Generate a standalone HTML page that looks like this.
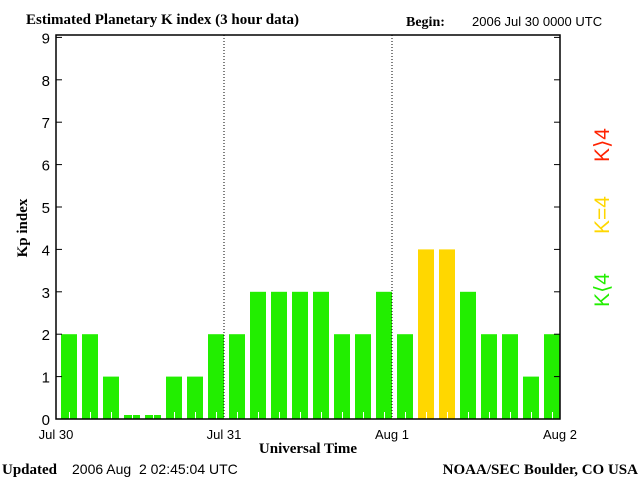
<!DOCTYPE html>
<html><head><meta charset="utf-8"><style>
body{margin:0;background:#fff;width:640px;height:480px;overflow:hidden}
svg text{fill:#000}
</style></head><body>
<svg width="640" height="480" xmlns="http://www.w3.org/2000/svg">
<text x="26" y="24" font-family="Liberation Serif" font-weight="bold" font-size="15">Estimated Planetary K index (3 hour data)</text>
<text x="406" y="26" font-family="Liberation Serif" font-weight="bold" font-size="14">Begin:</text>
<text x="472" y="26" font-family="Liberation Sans" font-size="13">2006 Jul 30 0000 UTC</text>
<g id="plot"></g>
<text transform="translate(27,228) rotate(-90)" text-anchor="middle" font-family="Liberation Serif" font-weight="bold" font-size="15">Kp index</text>
<text x="308" y="453" text-anchor="middle" font-family="Liberation Serif" font-weight="bold" font-size="15">Universal Time</text>
<text x="2" y="474" font-family="Liberation Serif" font-weight="bold" font-size="15">Updated</text>
<text x="72" y="474" font-family="Liberation Sans" font-size="14" xml:space="preserve">2006 Aug  2 02:45:04 UTC</text>
<text x="638" y="474" text-anchor="end" font-family="Liberation Serif" font-weight="bold" font-size="15">NOAA/SEC Boulder, CO USA</text>
<text transform="translate(609,290) rotate(-90)" text-anchor="middle" font-family="Liberation Sans" font-size="21" style="fill:#22ee00">K⟨4</text>
<text transform="translate(609,215) rotate(-90)" text-anchor="middle" font-family="Liberation Sans" font-size="21" style="fill:#ffd700">K=4</text>
<text transform="translate(609,145) rotate(-90)" text-anchor="middle" font-family="Liberation Sans" font-size="21" style="fill:#ff2200">K⟩4</text>
</svg>
<script>
const kpValues=[2,2,1,0,0,1,1,2, 2,3,3,3,3,2,2,3, 2,4,4,3,2,2,1,2];
const yTicks=[0,1,2,3,4,5,6,7,8,9];
const dayLabels=["Jul 30","Jul 31","Aug 1","Aug 2"];
const NS="http://www.w3.org/2000/svg";
const L=56,R=560,T=35,B=419;
const yS=v=>419-v*42.4;
const xS=i=>L+i*(R-L)/24;
const g=document.getElementById('plot');
function mk(t,a){const e=document.createElementNS(NS,t);for(const k in a)e.setAttribute(k,a[k]);g.appendChild(e);return e;}
kpValues.forEach((v,i)=>{
  const top=v===0?yS(0)-4:yS(v);
  const col=v<4?'#22ee00':(v===4?'#ffd700':'#ff2200');
  const r=mk('rect',{x:xS(i)+5,y:top,width:16,height:B-top,fill:col});
  
  
  const t=mk('line',{x1:xS(i)+13.5,x2:xS(i)+13.5,y1:B,y2:B-7,stroke:'#fff'});
  
  
});
[1,2].forEach(d=>{
  const x=L+d*(R-L)/3;
  const l=mk('line',{x1:x,x2:x,y1:T,y2:B,stroke:'#000','stroke-dasharray':'1,2'});
  
  
});
const fr=mk('rect',{x:L,y:T,width:R-L,height:B-T,fill:'none',stroke:'#000','stroke-width':1.5});


yTicks.forEach(v=>{
  const y=yS(v);
  const a=mk('line',{x1:L,x2:L+6,y1:y,y2:y,stroke:'#000'});
  
  
  const b=mk('line',{x1:R-6,x2:R,y1:y,y2:y,stroke:'#000'});
  
  
  const t=mk('text',{x:L-6,y:y+6,'text-anchor':'end','font-family':'Liberation Sans','font-size':15});
  t.textContent=v;
  
  
});
dayLabels.forEach((s,d)=>{
  const t=mk('text',{x:L+d*(R-L)/3,y:439,'text-anchor':'middle','font-family':'Liberation Sans','font-size':13});
  t.textContent=s;
  
  
});
</script>
</body></html>
